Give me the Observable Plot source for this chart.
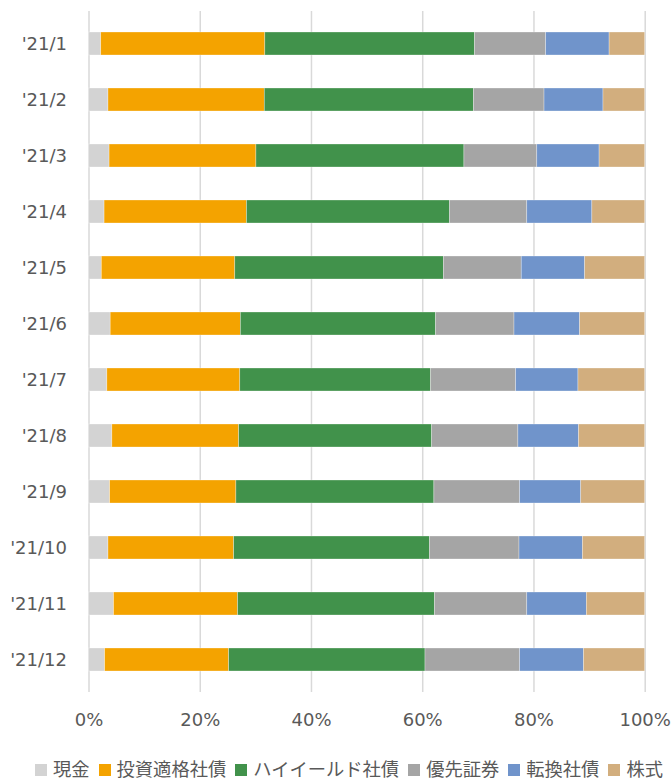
<!DOCTYPE html>
<html>
<head>
<meta charset="utf-8">
<script src="https://cdn.jsdelivr.net/npm/d3@7"></script>
<script src="https://cdn.jsdelivr.net/npm/@observablehq/plot@0.6"></script>
<style>
  html, body { margin: 0; padding: 0; background: #fff; overflow: hidden; }
  body { width: 672px; height: 781px; }
  #chart { width: 672px; height: 781px; position: relative; }
  #chart svg { display: block; }
  .legend { position: absolute; top: 756px; left: 35px; display: flex; align-items: center;
            white-space: nowrap; font-family: "Noto Sans CJK JP", sans-serif; font-size: 18.3px; line-height: 24px; color: #595959; }
  .legend .item { display: flex; align-items: center; margin-right: 9px; }
  .legend .item:last-child { margin-right: 0; }
  .legend .sw { width: 12px; height: 12px; margin-right: 6px; margin-top: 4px; flex: none; }
</style>
</head>
<body>
<div id="chart"></div>
<script>
const months = ["'21/1","'21/2","'21/3","'21/4","'21/5","'21/6","'21/7","'21/8","'21/9","'21/10","'21/11","'21/12"];
const seriesNames = ["現金","投資適格社債","ハイイールド社債","優先証券","転換社債","株式"];
const seriesColors = ["#d3d3d3","#f4a300","#41924b","#a5a5a5","#7094cb","#d2ae7e"];

const cash       = [2.2, 3.5, 3.7, 2.8, 2.3, 3.9, 3.3, 4.2, 3.8, 3.5, 4.5, 2.9];
const igBonds    = [29.5, 28.1, 26.4, 25.6, 24.0, 23.4, 23.9, 22.8, 22.7, 22.6, 22.3, 22.3];
const hyBonds    = [37.7, 37.6, 37.4, 36.5, 37.5, 35.1, 34.3, 34.7, 35.6, 35.2, 35.4, 35.3];
const preferred  = [12.8, 12.7, 13.1, 13.9, 14.0, 14.1, 15.3, 15.5, 15.4, 16.1, 16.6, 17.0];
const convertible= [11.4, 10.6, 11.2, 11.7, 11.4, 11.8, 11.2, 10.9, 11.0, 11.4, 10.7, 11.5];
const equity     = [6.4, 7.5, 8.2, 9.5, 10.8, 11.7, 12.0, 11.9, 11.5, 11.2, 10.5, 11.0];

const xTicks = [0, 0.2, 0.4, 0.6, 0.8, 1];

const seriesValues = [cash, igBonds, hyBonds, preferred, convertible, equity];
const data = [];
months.forEach((m, i) => {
  seriesNames.forEach((s, j) => {
    data.push({month: m, series: s, value: seriesValues[j][i]});
  });
});

const chart = Plot.plot({
  width: 672,
  height: 745,
  marginTop: 11,
  marginBottom: 53,
  marginLeft: 88.5,
  marginRight: 27.3,
  style: {fontFamily: "'DejaVu Sans', 'Noto Sans CJK JP', sans-serif", fontSize: "18px", color: "#595959", background: "#fff", overflow: "visible"},
  x: {domain: [0, 1], ticks: xTicks, tickFormat: d3.format(".0%"), tickSize: 0, tickPadding: 21, label: null},
  y: {domain: months, paddingInner: 0.59, paddingOuter: 0.295, tickSize: 0, tickPadding: 22, label: null},
  color: {domain: seriesNames, range: seriesColors},
  marks: [
    Plot.ruleX(xTicks, {stroke: "#d9d9d9", strokeWidth: 1.5}),
    Plot.barX(data, Plot.stackX({offset: "normalize", x: "value", y: "month", z: "series", fill: "series", order: seriesNames, stroke: "#ffffff", strokeOpacity: 0.5, strokeWidth: 0.6}))
  ]
});
document.getElementById("chart").appendChild(chart);

const legend = document.createElement("div");
legend.className = "legend";
seriesNames.forEach((s, i) => {
  const item = document.createElement("span");
  item.className = "item";
  const sw = document.createElement("span");
  sw.className = "sw";
  sw.style.background = seriesColors[i];
  const t = document.createElement("span");
  t.textContent = s;
  item.appendChild(sw);
  item.appendChild(t);
  legend.appendChild(item);
});
document.getElementById("chart").appendChild(legend);
</script>
</body>
</html>
